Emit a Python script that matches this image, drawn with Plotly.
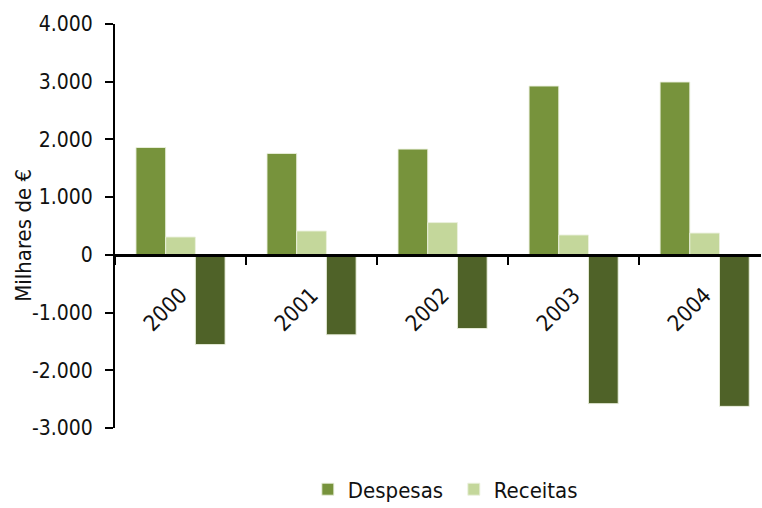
import plotly.graph_objects as go

# Annual values, thousands of euros
anos = ["2000", "2001", "2002", "2003", "2004"]
despesas = [1860, 1757, 1832, 2925, 2995]
receitas = [309, 413, 559, 344, 378]
saldo = [-1554, -1385, -1276, -2578, -2625]

y_ticks = [-3000, -2000, -1000, 0, 1000, 2000, 3000, 4000]
y_tick_text = ["-3.000", "-2.000", "-1.000", "0", "1.000", "2.000", "3.000", "4.000"]

FONT = "DejaVu Sans Condensed, Liberation Sans Narrow, sans-serif"
edge = dict(color="rgba(235,241,222,0.9)", width=1)

fig = go.Figure()
fig.add_trace(go.Bar(x=anos, y=despesas, name="Despesas",
                     marker=dict(color="#77933C", line=edge)))
fig.add_trace(go.Bar(x=anos, y=receitas, name="Receitas",
                     marker=dict(color="#C4D79B", line=edge)))
fig.add_trace(go.Bar(x=anos, y=saldo, name="Saldo", showlegend=False,
                     marker=dict(color="#4F6228", line=edge)))

fig.update_layout(
    width=762, height=508,
    margin=dict(l=115, r=1, t=24, b=80, autoexpand=False),
    paper_bgcolor="white", plot_bgcolor="white",
    font=dict(family=FONT, size=22, color="#111111"),
    barmode="group", bargap=0.32, bargroupgap=0,
    legend=dict(orientation="h", x=0.2985, xanchor="left", y=-0.1, yanchor="top",
                font=dict(size=22), itemwidth=30, traceorder="normal",
                entrywidth=101, entrywidthmode="pixels"),
    xaxis=dict(
        type="category", range=[-0.5, 4.43],
        anchor="free", position=3 / 7,
        showline=True, linecolor="black", linewidth=2.5,
        ticks="outside", ticklen=8, tickwidth=1.5, tickcolor="black",
        tickson="boundaries", tickangle=-45, ticklabelstandoff=17,
        showgrid=False, zeroline=False,
        tickfont=dict(size=22),
    ),
    yaxis=dict(
        range=[-3000, 4000], tickvals=y_ticks, ticktext=y_tick_text,
        showline=True, linecolor="black", linewidth=2,
        ticks="outside", ticklen=8, tickwidth=1.5, tickcolor="black",
        ticklabelstandoff=8,
        showgrid=False, zeroline=False,
        tickfont=dict(size=21),
    ),
    annotations=[dict(
        text="Milhares de €", textangle=-90,
        xref="paper", yref="paper", x=-0.141, y=0.478,
        xanchor="center", yanchor="middle", showarrow=False,
        font=dict(size=22),
    )],
)

fig.write_html("out.html")
